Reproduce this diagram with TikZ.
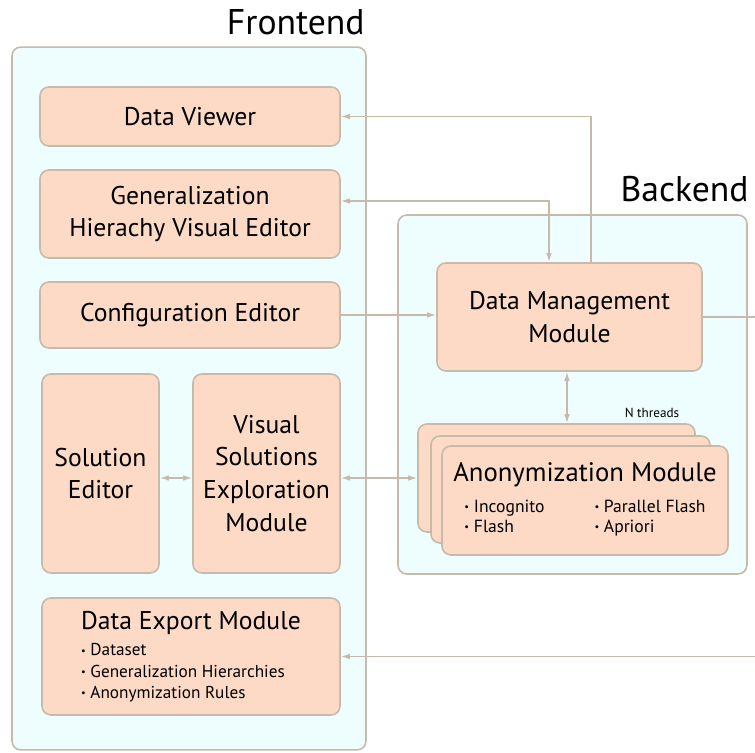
\documentclass[tikz,border=0pt]{standalone}
\usepackage{fontspec}
\setmainfont{PT Sans}
\usetikzlibrary{arrows.meta,positioning}
\definecolor{peach}{RGB}{252,218,198}
\definecolor{tanline}{RGB}{200,186,170}
\definecolor{paleaqua}{RGB}{238,253,254}
\newcommand{\dotitem}{\raisebox{0.2ex}{\scalebox{0.6}{\textbullet}}\ }
\newcommand{\smallitem}{\fontsize{9.8}{12.2}\selectfont\dotitem}

\begin{document}
\begin{tikzpicture}[x=0.02cm, y=-0.02cm,
    panel/.style={rectangle, rounded corners=5pt, draw=tanline, line width=0.9pt, fill=paleaqua},
    module/.style={rectangle, rounded corners=5pt, draw=tanline, line width=0.9pt, fill=peach, align=center, inner sep=0pt, font=\fontsize{14.6}{18.7}\selectfont},
    heading/.style={font=\fontsize{20.3}{24}\selectfont, inner sep=0pt, anchor=base east},
    link/.style={draw=tanline, line width=0.8pt, -{Latex[length=1.8mm,width=1.1mm]}},
    twoway/.style={link, {Latex[length=1.8mm,width=1.1mm]}-{Latex[length=1.8mm,width=1.1mm]}}
]
\useasboundingbox (0,0) rectangle (755,753);

\node[panel, minimum width=7.08cm, minimum height=14.06cm] (frontend) at (189,398.5) {};
\node[heading] (fronttitle) at (365,35) {Frontend};
\node[panel, minimum width=6.98cm, minimum height=7.18cm] (backend) at (572.5,394.5) {};
\node[heading] (backtitle) at (749,202) {Backend};

\node[module, minimum width=6cm, minimum height=1.18cm] (viewer) at (190,116.5) {Data Viewer};
\node[module, minimum width=6cm, minimum height=1.76cm] (hier) at (190,214) {Generalization\\Hierachy Visual Editor};
\node[module, minimum width=6cm, minimum height=1.32cm] (config) at (190,315) {Configuration Editor};
\node[module, minimum width=2.34cm, minimum height=3.98cm] (soledit) at (100.5,473.5) {Solution\\Editor};
\node[module, minimum width=2.94cm, minimum height=3.98cm] (vse) at (266.5,473.5) {Visual\\Solutions\\Exploration\\Module};
\node[module, minimum width=5.96cm, minimum height=2.34cm, align=left, font=\fontsize{14.6}{12.2}\selectfont] (export) at (191,656.5) {Data Export Module\\[3pt]
  \smallitem Dataset\\\smallitem Generalization Hierarchies\\\smallitem Anonymization Rules};

\node[module, minimum width=5.3cm, minimum height=2.16cm] (dmm) at (569.5,317) {Data Management\\Module};
\node[module, minimum width=5.54cm, minimum height=2.16cm] (anonback) at (556.5,478) {};
\node[module, minimum width=5.58cm, minimum height=2.14cm] (anonmid) at (570.5,489.5) {};
\node[module, minimum width=5.72cm, minimum height=2.18cm] (anon) at (585,500.5) {\fontsize{15.2}{18}\selectfont Anonymization Module\\[5pt]
  \fontsize{10}{11.6}\selectfont\begin{tabular}{@{}l@{\hspace{1cm}}l@{}}\dotitem Incognito & \dotitem Parallel Flash\\ \dotitem Flash & \dotitem Apriori\end{tabular}};
\node[font=\fontsize{7.5}{9}\selectfont, inner sep=0pt] (nthreads) at (652,413) {N threads};

\draw[link] ([xshift=0.43cm]dmm.north) |- (viewer.east);
\draw[twoway] ([yshift=0.26cm]hier.east) -| ([xshift=-0.41cm]dmm.north);
\draw[link] (config.east) -- (config.east -| dmm.west);
\draw[link] (dmm.east) -- ++(1.3cm,0) |- (export.east);
\draw[twoway] ([xshift=-0.05cm]dmm.south) -- ([xshift=-0.05cm]dmm.south |- anonback.north);
\draw[twoway] (vse.east |- anonback.west) -- (anonback.west);
\draw[twoway] ([yshift=-0.09cm]soledit.east) -- ([yshift=-0.09cm]soledit.east -| vse.west);
\end{tikzpicture}
\end{document}
